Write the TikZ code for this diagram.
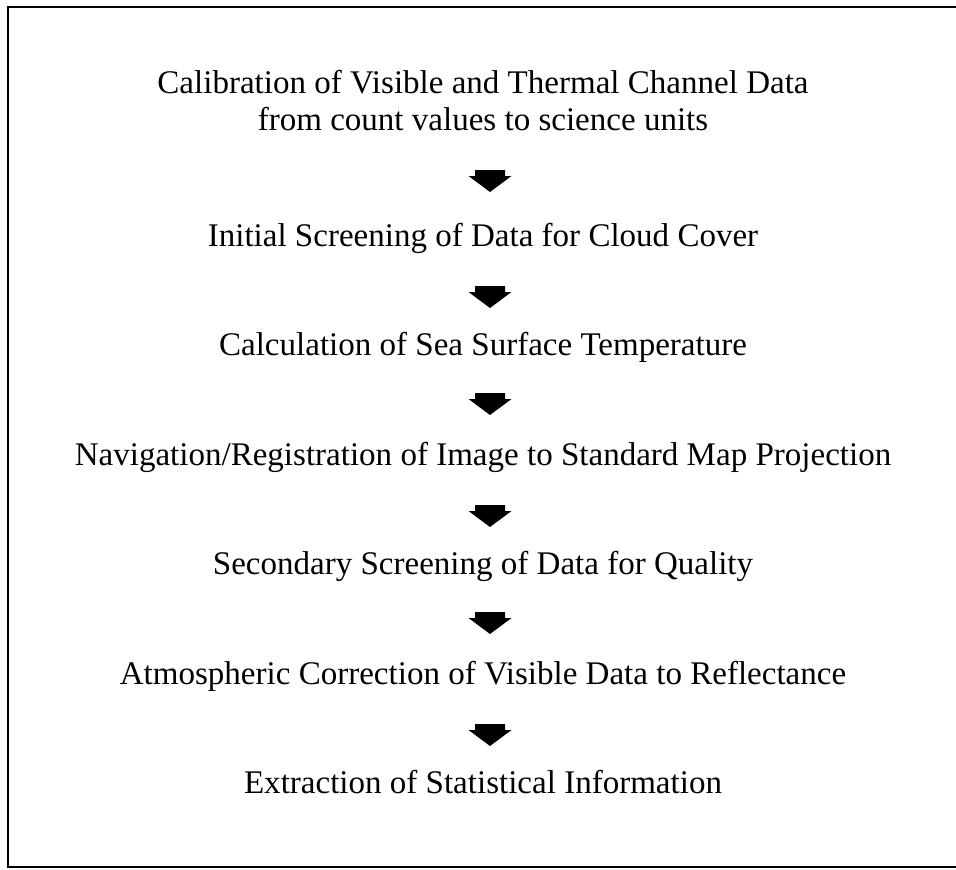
\documentclass[tikz,border=0pt]{standalone}
\usepackage{fontspec}
\setmainfont{Liberation Serif}
\tikzset{
  stage/.style={font=\fontsize{18.8}{21}\selectfont, anchor=base, align=center, inner sep=0pt},
}
\begin{document}
\begin{tikzpicture}[x=0.02cm,y=-0.02cm]
\useasboundingbox (0,0) rectangle (956,869);
\draw[line width=0.05cm] (960,7)--(8,7)--(8,867)--(960,867);
\node[stage] (s0) at (483,130) {Calibration of Visible and Thermal Channel Data\\from count values to science units};
\foreach \n/\y/\t in {1/246/{Initial Screening of Data for Cloud Cover},
                      2/355.5/{Calculation of Sea Surface Temperature},
                      3/465/{Navigation/Registration of Image to Standard Map Projection},
                      4/574.5/{Secondary Screening of Data for Quality},
                      5/684/{Atmospheric Correction of Visible Data to Reflectance},
                      6/793/{Extraction of Statistical Information}}
  \node[stage] (s\n) at (483,\y) {\t};
% block arrows between the stages
\foreach \i/\y in {1/181,2/297,3/404,4/516,5/623,6/735} {
  \coordinate (a\i) at (490,\y);
  \fill (a\i) +(-15,-11) -- +(15,-11) -- +(15,-5) -- +(21.5,-5) -- +(0,11)
    -- +(-21.5,-5) -- +(-15,-5) -- cycle;
}
\end{tikzpicture}
\end{document}
